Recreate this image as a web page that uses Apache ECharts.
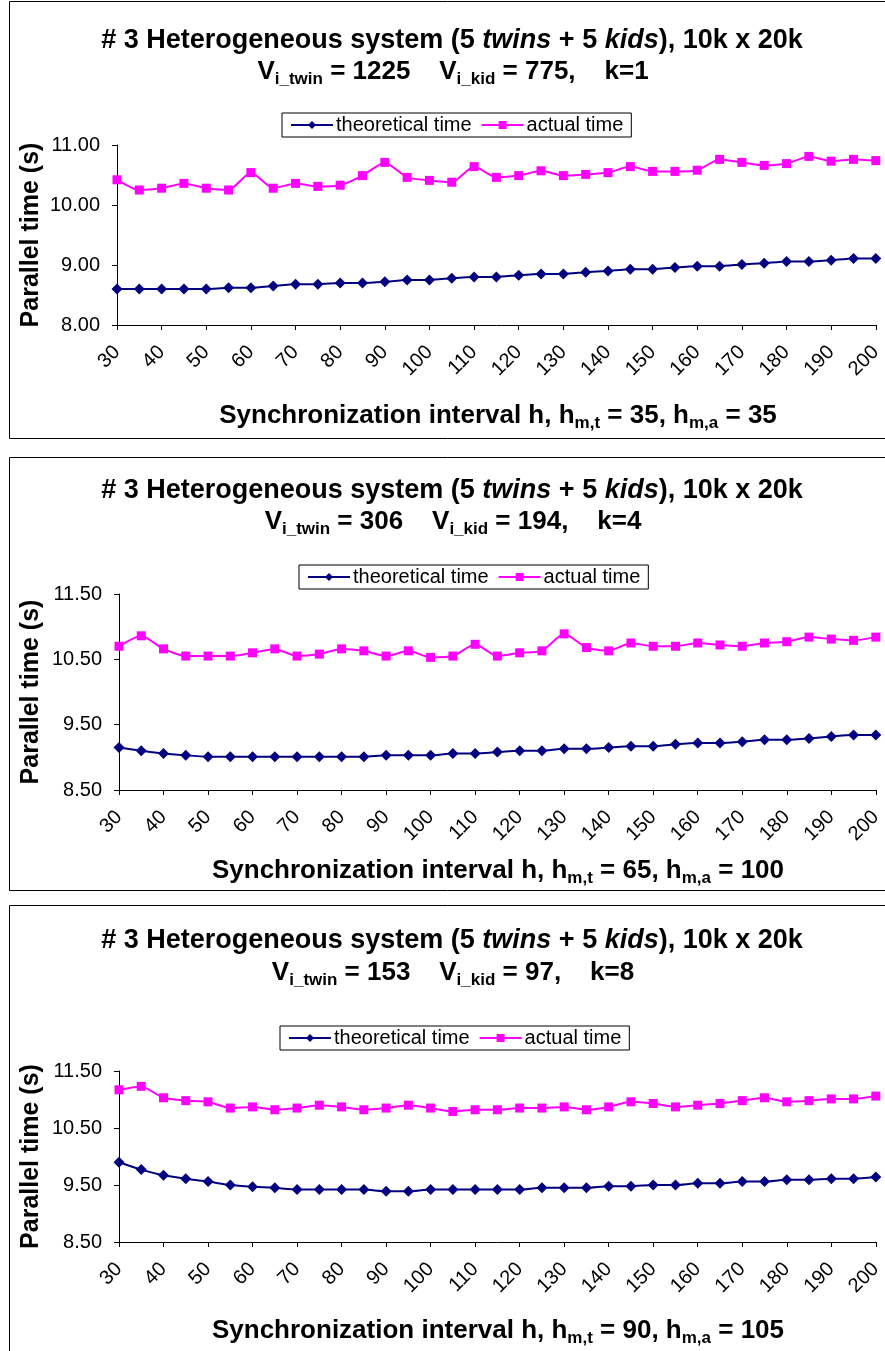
<!DOCTYPE html>
<html>
<head>
<meta charset="utf-8">
<script src="https://cdn.jsdelivr.net/npm/echarts@6/dist/echarts.min.js"></script>
<style>
  html, body { margin: 0; padding: 0; background: #fff; }
  #chart { width: 885px; height: 1351px; }
</style>
</head>
<body>
<div id="chart"></div>
<script>
// Synchronization interval h (categories)
const hValues = ['30','35','40','45','50','55','60','65','70','75','80','85','90','95','100','105','110','115',
  '120','125','130','135','140','145','150','155','160','165','170','175','180','185','190','195','200'];

// k = 1
const theoretical1 = [8.60,8.60,8.60,8.60,8.60,8.62,8.62,8.65,8.68,8.68,8.70,8.70,8.72,8.75,8.75,8.78,8.80,8.80,
  8.83,8.85,8.85,8.88,8.90,8.93,8.93,8.96,8.98,8.98,9.01,9.03,9.06,9.06,9.08,9.11,9.11];
const actual1 = [10.42,10.25,10.28,10.36,10.28,10.25,10.54,10.28,10.36,10.31,10.33,10.49,10.71,10.46,10.41,10.38,10.64,10.46,
  10.49,10.57,10.49,10.51,10.54,10.64,10.56,10.56,10.58,10.76,10.71,10.66,10.69,10.81,10.73,10.76,10.74];

// k = 4
const theoretical2 = [9.15,9.10,9.06,9.03,9.01,9.01,9.01,9.01,9.01,9.01,9.01,9.01,9.03,9.03,9.03,9.06,9.06,9.08,
  9.10,9.10,9.13,9.13,9.15,9.17,9.17,9.20,9.22,9.22,9.24,9.27,9.27,9.29,9.32,9.34,9.34];
const actual2 = [10.70,10.86,10.66,10.55,10.55,10.55,10.60,10.66,10.55,10.58,10.66,10.63,10.55,10.63,10.53,10.55,10.73,10.55,
  10.60,10.63,10.89,10.68,10.63,10.75,10.70,10.70,10.75,10.72,10.70,10.75,10.77,10.84,10.81,10.79,10.84];

// k = 8
const theoretical3 = [9.90,9.77,9.67,9.61,9.56,9.50,9.47,9.45,9.42,9.42,9.42,9.42,9.39,9.39,9.42,9.42,9.42,9.42,
  9.42,9.45,9.45,9.45,9.48,9.48,9.50,9.50,9.53,9.53,9.56,9.56,9.59,9.59,9.61,9.61,9.64];
const actual3 = [11.17,11.23,11.03,10.98,10.96,10.85,10.87,10.82,10.85,10.90,10.87,10.82,10.85,10.90,10.85,10.79,10.82,10.82,
  10.85,10.85,10.87,10.82,10.87,10.96,10.93,10.87,10.90,10.93,10.98,11.03,10.96,10.98,11.01,11.01,11.06];

// Per-panel header values
const vTwin = ['1225', '306', '153'];
const vKid = ['775', '194', '97'];
const kValues = ['1', '4', '8'];
const hmT = ['35', '65', '90'];
const hmA = ['35', '100', '105'];
const yRanges = [[8, 11, 1, 2], [8.5, 11.5, 1, 2], [8.5, 11.5, 1, 2]];

const FONT = '"Liberation Sans", Arial, sans-serif';
const NAVY = '#000080';
const MAGENTA = '#FF00FF';

// Layout of the three stacked panels
const panels = [
  { boxTop: 1, boxBottom: 438, t1: 41, t2: 72, xTitle: 416, legendTop: 113, legendLeft: 282,
    grid: { left: 117, top: 145, width: 763, height: 180 } },
  { boxTop: 457, boxBottom: 890, t1: 491, t2: 522, xTitle: 871, legendTop: 565, legendLeft: 299,
    grid: { left: 119, top: 594, width: 760, height: 196 } },
  { boxTop: 905, boxBottom: 1360, t1: 941, t2: 973, xTitle: 1331, legendTop: 1026, legendLeft: 280,
    grid: { left: 119, top: 1071, width: 761, height: 171 } }
];
const seriesData = [[theoretical1, actual1], [theoretical2, actual2], [theoretical3, actual3]];

function richSet(size, subSize) {
  return {
    b: { fontFamily: FONT, fontWeight: 'bold', fontSize: size, color: '#000', lineHeight: size + 6 },
    i: { fontFamily: FONT, fontWeight: 'bold', fontStyle: 'italic', fontSize: size, color: '#000', lineHeight: size + 6 },
    s: { fontFamily: FONT, fontWeight: 'bold', fontSize: subSize, color: '#000', verticalAlign: 'bottom', lineHeight: subSize + 1 }
  };
}

function label(text, x, y, size, subSize, rotation) {
  return {
    type: 'text', x, y, rotation: rotation || 0, silent: true,
    style: { text, rich: richSet(size, subSize), align: 'center', verticalAlign: 'middle' }
  };
}

const graphic = [];
const grid = [], xAxis = [], yAxis = [], series = [], legend = [];

panels.forEach((p, n) => {
  graphic.push({
    type: 'rect', z: -1, silent: true,
    shape: { x: 9.5, y: p.boxTop + 0.5, width: 900, height: p.boxBottom - p.boxTop },
    style: { fill: '#fff', stroke: '#000', lineWidth: 1 }
  });
  graphic.push(label('{b|# 3 Heterogeneous system (5 }{i|twins}{b| + 5 }{i|kids}{b|), 10k x 20k}', 452, p.t1, 27, 17));
  graphic.push(label('{b|V}{s|i_twin}{b| = ' + vTwin[n] + '    V}{s|i_kid}{b| = ' + vKid[n] + ',    k=' + kValues[n] + '}',
    453, p.t2, 26, 17));
  graphic.push(label('{b|Synchronization interval h, h}{s|m,t}{b| = ' + hmT[n] + ', h}{s|m,a}{b| = ' + hmA[n] + '}',
    498, p.xTitle, 26, 17));
  graphic.push(label('{b|Parallel time (s)}', 31, p.grid.top + p.grid.height / 2, 25, 17, Math.PI / 2));

  grid.push(Object.assign({ containLabel: false }, p.grid));

  legend.push({
    left: p.legendLeft, top: p.legendTop,
    orient: 'horizontal',
    data: ['theoretical time', 'actual time'],
    borderColor: '#000', borderWidth: 1, borderRadius: 0,
    padding: [2, 8, 2, 8],
    itemGap: 9, itemWidth: 42, itemHeight: 10,
    textStyle: { fontFamily: FONT, fontSize: 20, color: '#000', padding: [0, 0, 0, -2] },
    selectedMode: false
  });

  xAxis.push({
    type: 'category', gridIndex: n, data: hValues, boundaryGap: false,
    axisLine: { lineStyle: { color: '#000', width: 1 } },
    axisTick: { interval: 1, length: 5, lineStyle: { color: '#000' } },
    axisLabel: { interval: 1, rotate: 45, fontFamily: FONT, fontSize: 20, color: '#000', margin: 24 },
    splitLine: { show: false }
  });

  const r = yRanges[n];
  yAxis.push({
    type: 'value', gridIndex: n, min: r[0], max: r[1], interval: r[2],
    axisLine: { show: true, lineStyle: { color: '#000', width: 1 } },
    axisTick: { show: true, length: 5, lineStyle: { color: '#000' } },
    axisLabel: { fontFamily: FONT, fontSize: 20, color: '#000', margin: 17, formatter: v => v.toFixed(r[3]) },
    splitLine: { show: false }
  });

  series.push({
    name: 'theoretical time', type: 'line', xAxisIndex: n, yAxisIndex: n,
    data: seriesData[n][0], smooth: 0.2,
    symbol: 'diamond', symbolSize: 11,
    lineStyle: { color: NAVY, width: 2 }, itemStyle: { color: NAVY },
    emphasis: { disabled: true }, animation: false
  });
  series.push({
    name: 'actual time', type: 'line', xAxisIndex: n, yAxisIndex: n,
    data: seriesData[n][1], smooth: 0.2,
    symbol: 'rect', symbolSize: 9,
    lineStyle: { color: MAGENTA, width: 2 }, itemStyle: { color: MAGENTA },
    emphasis: { disabled: true }, animation: false
  });
});

const chart = echarts.init(document.getElementById('chart'), null, { renderer: 'canvas' });
chart.setOption({
  backgroundColor: '#fff',
  animation: false,
  graphic, grid, xAxis, yAxis, series, legend
});
</script>
</body>
</html>
